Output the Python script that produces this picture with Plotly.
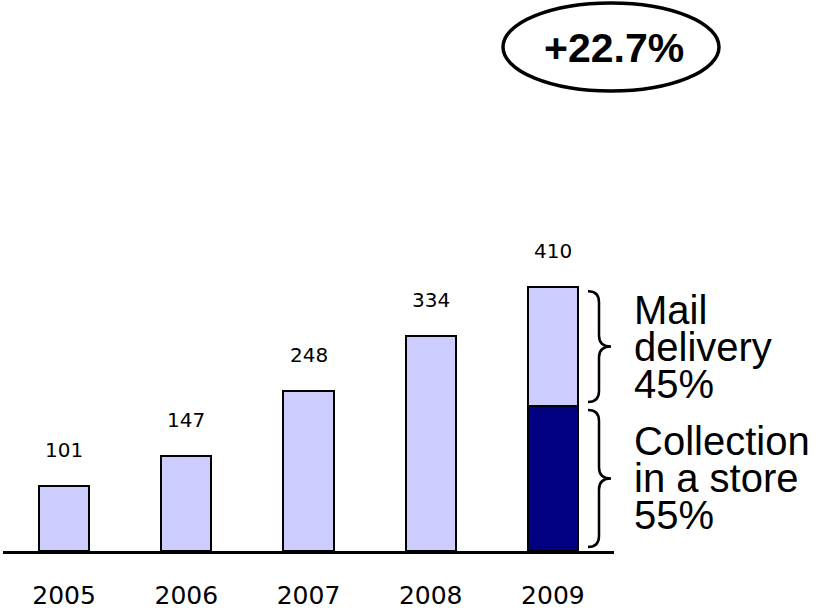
import plotly.graph_objects as go

# ---- data ----
years = ["2005", "2006", "2007", "2008", "2009"]
totals = [101, 147, 248, 334, 410]
share_collection_2009 = 0.55   # collection in a store
share_mail_2009 = 0.45         # mail delivery
growth_label = "+22.7%"

LIGHT = "#CCCCFF"
DARK = "#000080"

# single light bars for 2005-2008, split bar for 2009
single_vals = totals[:4] + [None]
collection_vals = [None] * 4 + [totals[4] * share_collection_2009]
mail_vals = [None] * 4 + [totals[4] * share_mail_2009]

fig = go.Figure()
bar_line = dict(color="black", width=2)
fig.add_bar(x=years, y=single_vals, marker=dict(color=LIGHT, line=bar_line), showlegend=False)
fig.add_bar(x=years, y=collection_vals, marker=dict(color=DARK, line=bar_line), showlegend=False)
fig.add_bar(x=years, y=mail_vals, marker=dict(color=LIGHT, line=bar_line), showlegend=False)

# value labels above bars (numeric category index for annotation positions)
for i, v in enumerate(totals):
    fig.add_annotation(x=i, y=v, text=str(v), showarrow=False, yshift=36,
                       yanchor="middle", font=dict(family="DejaVu Sans", size=20, color="black"))

# plot geometry (pixels) for paper conversions
L, R, T, B = 3, 208, 100, 59
W, H = 822, 610
PW = W - L - R
PH = H - T - B
YMAX = 701
px_per_unit = PH / YMAX


def xp(px):
    return (px - L) / PW


def yp(py):
    return (H - B - py) / PH


def brace(lo, hi):
    inset = 4 / px_per_unit
    r = 11 / px_per_unit
    top, bot = hi - inset, lo + inset
    mid = (top + bot) / 2
    xl, xm, xt = xp(588), xp(599), xp(611)
    return (f"M {xl},{top} Q {xm},{top} {xm},{top - r} L {xm},{mid + r} "
            f"Q {xm},{mid} {xt},{mid} Q {xm},{mid} {xm},{mid - r} "
            f"L {xm},{bot + r} Q {xm},{bot} {xl},{bot}")


c = collection_vals[4]
tot = totals[4]
fig.add_shape(type="path", xref="paper", yref="y", path=brace(c, tot),
              line=dict(color="black", width=2.5))
fig.add_shape(type="path", xref="paper", yref="y", path=brace(0, c),
              line=dict(color="black", width=2.5))

side_font = dict(family="Liberation Sans, Arial", size=40, color="black")
for lines, center in ([["Mail", "delivery", "45%"], (c + tot) / 2],
                      [["Collection", "in a store", "55%"], c / 2]):
    for i, t in enumerate(lines):
        fig.add_annotation(xref="paper", yref="y", x=xp(632), y=center, text=t,
                           showarrow=False, xanchor="left", yanchor="middle",
                           yshift=-(i - 1) * 37, font=side_font)

# growth ellipse
fig.add_shape(type="circle", xref="paper", yref="paper",
              x0=xp(503), x1=xp(719), y0=yp(91), y1=yp(3),
              line=dict(color="black", width=3.5))
fig.add_annotation(xref="paper", yref="paper", x=xp(614), y=yp(48), text=f"<b>{growth_label}</b>",
                   showarrow=False, xanchor="center", yanchor="middle",
                   font=dict(family="Liberation Sans, Arial", size=41, color="black"))

fig.update_layout(
    barmode="stack", bargap=0.59,
    width=W, height=H,
    margin=dict(l=L, r=R, t=T, b=B, pad=0, autoexpand=False),
    plot_bgcolor="white", paper_bgcolor="white",
    xaxis=dict(type="category", range=[-0.5, 4.5], showgrid=False, zeroline=False,
               showline=True, linecolor="black", linewidth=3, ticks="",
               automargin=False, ticklabelstandoff=20,
               tickfont=dict(family="DejaVu Sans", size=25, color="black")),
    yaxis=dict(range=[0, YMAX], visible=False, showgrid=False, zeroline=False,
               automargin=False),
)

fig.write_html("out.html", config={"displayModeBar": False},
               post_script="document.body.style.margin='0';document.body.style.overflow='hidden';")
